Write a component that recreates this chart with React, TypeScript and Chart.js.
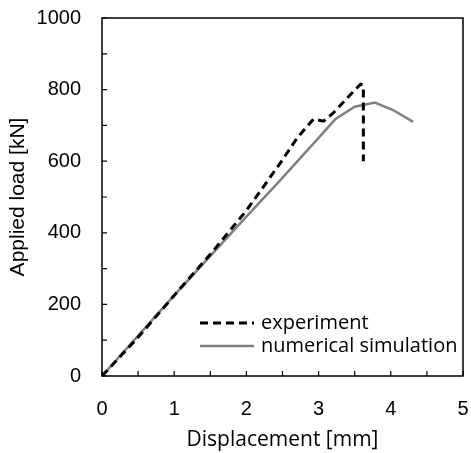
import React, { useEffect, useRef } from "react";
import { Chart, registerables } from "chart.js";

Chart.register(...registerables);

const expX = [0, 0.5, 1, 1.5, 2, 2.47, 2.7, 2.93, 3.07, 3.2, 3.46, 3.58, 3.62, 3.62];
const expY = [0, 108, 225, 340, 462, 595, 664, 718, 712, 734, 790, 815, 812, 600];
const simX = [0, 1, 2, 2.47, 3, 3.23, 3.5, 3.78, 4.03, 4.31];
const simY = [0, 225, 445, 547, 665, 717, 752, 764, 743, 710];
const xTicks = [0, 1, 2, 3, 4, 5];
const yTicks = [0, 200, 400, 600, 800, 1000];
const seriesNames = ["experiment", "numerical simulation"];

const ARIAL = "'Liberation Sans', Arial, sans-serif";
const TEXT_FAMILY = "'Open Sans', 'Noto Sans', sans-serif";

const framePlugin = {
  id: "frame",
  afterDatasetsDraw(chart: any) {
    const { ctx, chartArea: a, scales } = chart;
    ctx.save();
    ctx.strokeStyle = "#000";
    ctx.lineWidth = 1.5;
    ctx.strokeRect(a.left, a.top, a.right - a.left, a.bottom - a.top);
    const len = 5;
    ctx.lineWidth = 1.2;
    ctx.beginPath();
    scales.x.ticks.forEach((t: any) => {
      const px = scales.x.getPixelForValue(t.value);
      ctx.moveTo(px, a.bottom);
      ctx.lineTo(px, a.bottom - len);
    });
    scales.y.ticks.forEach((t: any) => {
      const py = scales.y.getPixelForValue(t.value);
      ctx.moveTo(a.left, py);
      ctx.lineTo(a.left + len, py);
    });
    ctx.stroke();
    // legend
    const lx = 200;
    const rows = [323, 346];
    chart.data.datasets.forEach((ds: any, i: number) => {
      const y = rows[i];
      ctx.beginPath();
      ctx.strokeStyle = ds.borderColor;
      ctx.lineWidth = ds.borderWidth;
      ctx.setLineDash(ds.borderDash || []);
      ctx.moveTo(lx, y);
      ctx.lineTo(lx + 54, y);
      ctx.stroke();
      ctx.setLineDash([]);
      ctx.fillStyle = "#000";
      ctx.font = "20px " + TEXT_FAMILY;
      ctx.textBaseline = "middle";
      ctx.textAlign = "left";
      ctx.fillText(ds.label, 261, y);
    });
    ctx.restore();
  },
};

function noPad(s: any) {
  s.paddingLeft = 0;
  s.paddingRight = 0;
  s.paddingTop = 0;
  s.paddingBottom = 0;
}

export default function App() {
  const ref = useRef<HTMLCanvasElement>(null);
  useEffect(() => {
    document.body.style.margin = "0";
    const chart = new Chart(ref.current!, {
      type: "scatter",
      data: {
        datasets: [
          {
            label: seriesNames[0],
            data: expX.map((x, i) => ({ x, y: expY[i] })),
            showLine: true,
            borderColor: "#000000",
            borderWidth: 3,
            borderDash: [8, 5],
            pointRadius: 0,
            fill: false,
          },
          {
            label: seriesNames[1],
            data: simX.map((x, i) => ({ x, y: simY[i] })),
            showLine: true,
            borderColor: "#808080",
            borderWidth: 2.5,
            pointRadius: 0,
            fill: false,
          },
        ],
      },
      options: {
        animation: false,
        responsive: false,
        layout: { padding: { top: 18, right: 8, left: 0, bottom: 0 } },
        plugins: { legend: { display: false }, tooltip: { enabled: false } },
        scales: {
          x: {
            type: "linear",
            min: 0,
            max: 5,
            grid: { display: false, drawTicks: false },
            border: { display: false },
            ticks: {
              stepSize: 0.5,
              padding: 21,
              color: "#000",
              font: { family: ARIAL, size: 20 },
              maxRotation: 0,
              autoSkip: false,
              callback: (v: any) => (xTicks.includes(Number(v)) ? String(v) : ""),
            },
            title: {
              display: true,
              text: "Displacement [mm]",
              color: "#000",
              font: { family: TEXT_FAMILY, size: 21 },
              padding: { top: 0, bottom: 0 },
            },
            afterFit: (s: any) => {
              s.height = 77;
              noPad(s);
            },
          },
          y: {
            type: "linear",
            min: 0,
            max: 1000,
            grid: { display: false, drawTicks: false },
            border: { display: false },
            ticks: {
              stepSize: 100,
              padding: 21,
              color: "#000",
              font: { family: ARIAL, size: 20 },
              autoSkip: false,
              callback: (v: any) => (yTicks.includes(Number(v)) ? String(v) : ""),
            },
            title: {
              display: true,
              text: "Applied load [kN]",
              color: "#000",
              font: { family: ARIAL, size: 21 },
              padding: { top: 6, bottom: 0 },
            },
            afterFit: (s: any) => {
              s.width = 102;
              noPad(s);
            },
          },
        },
      },
      plugins: [framePlugin],
    });
    return () => chart.destroy();
  }, []);
  return <canvas ref={ref} width={471} height={453} style={{ display: "block" }} />;
}
